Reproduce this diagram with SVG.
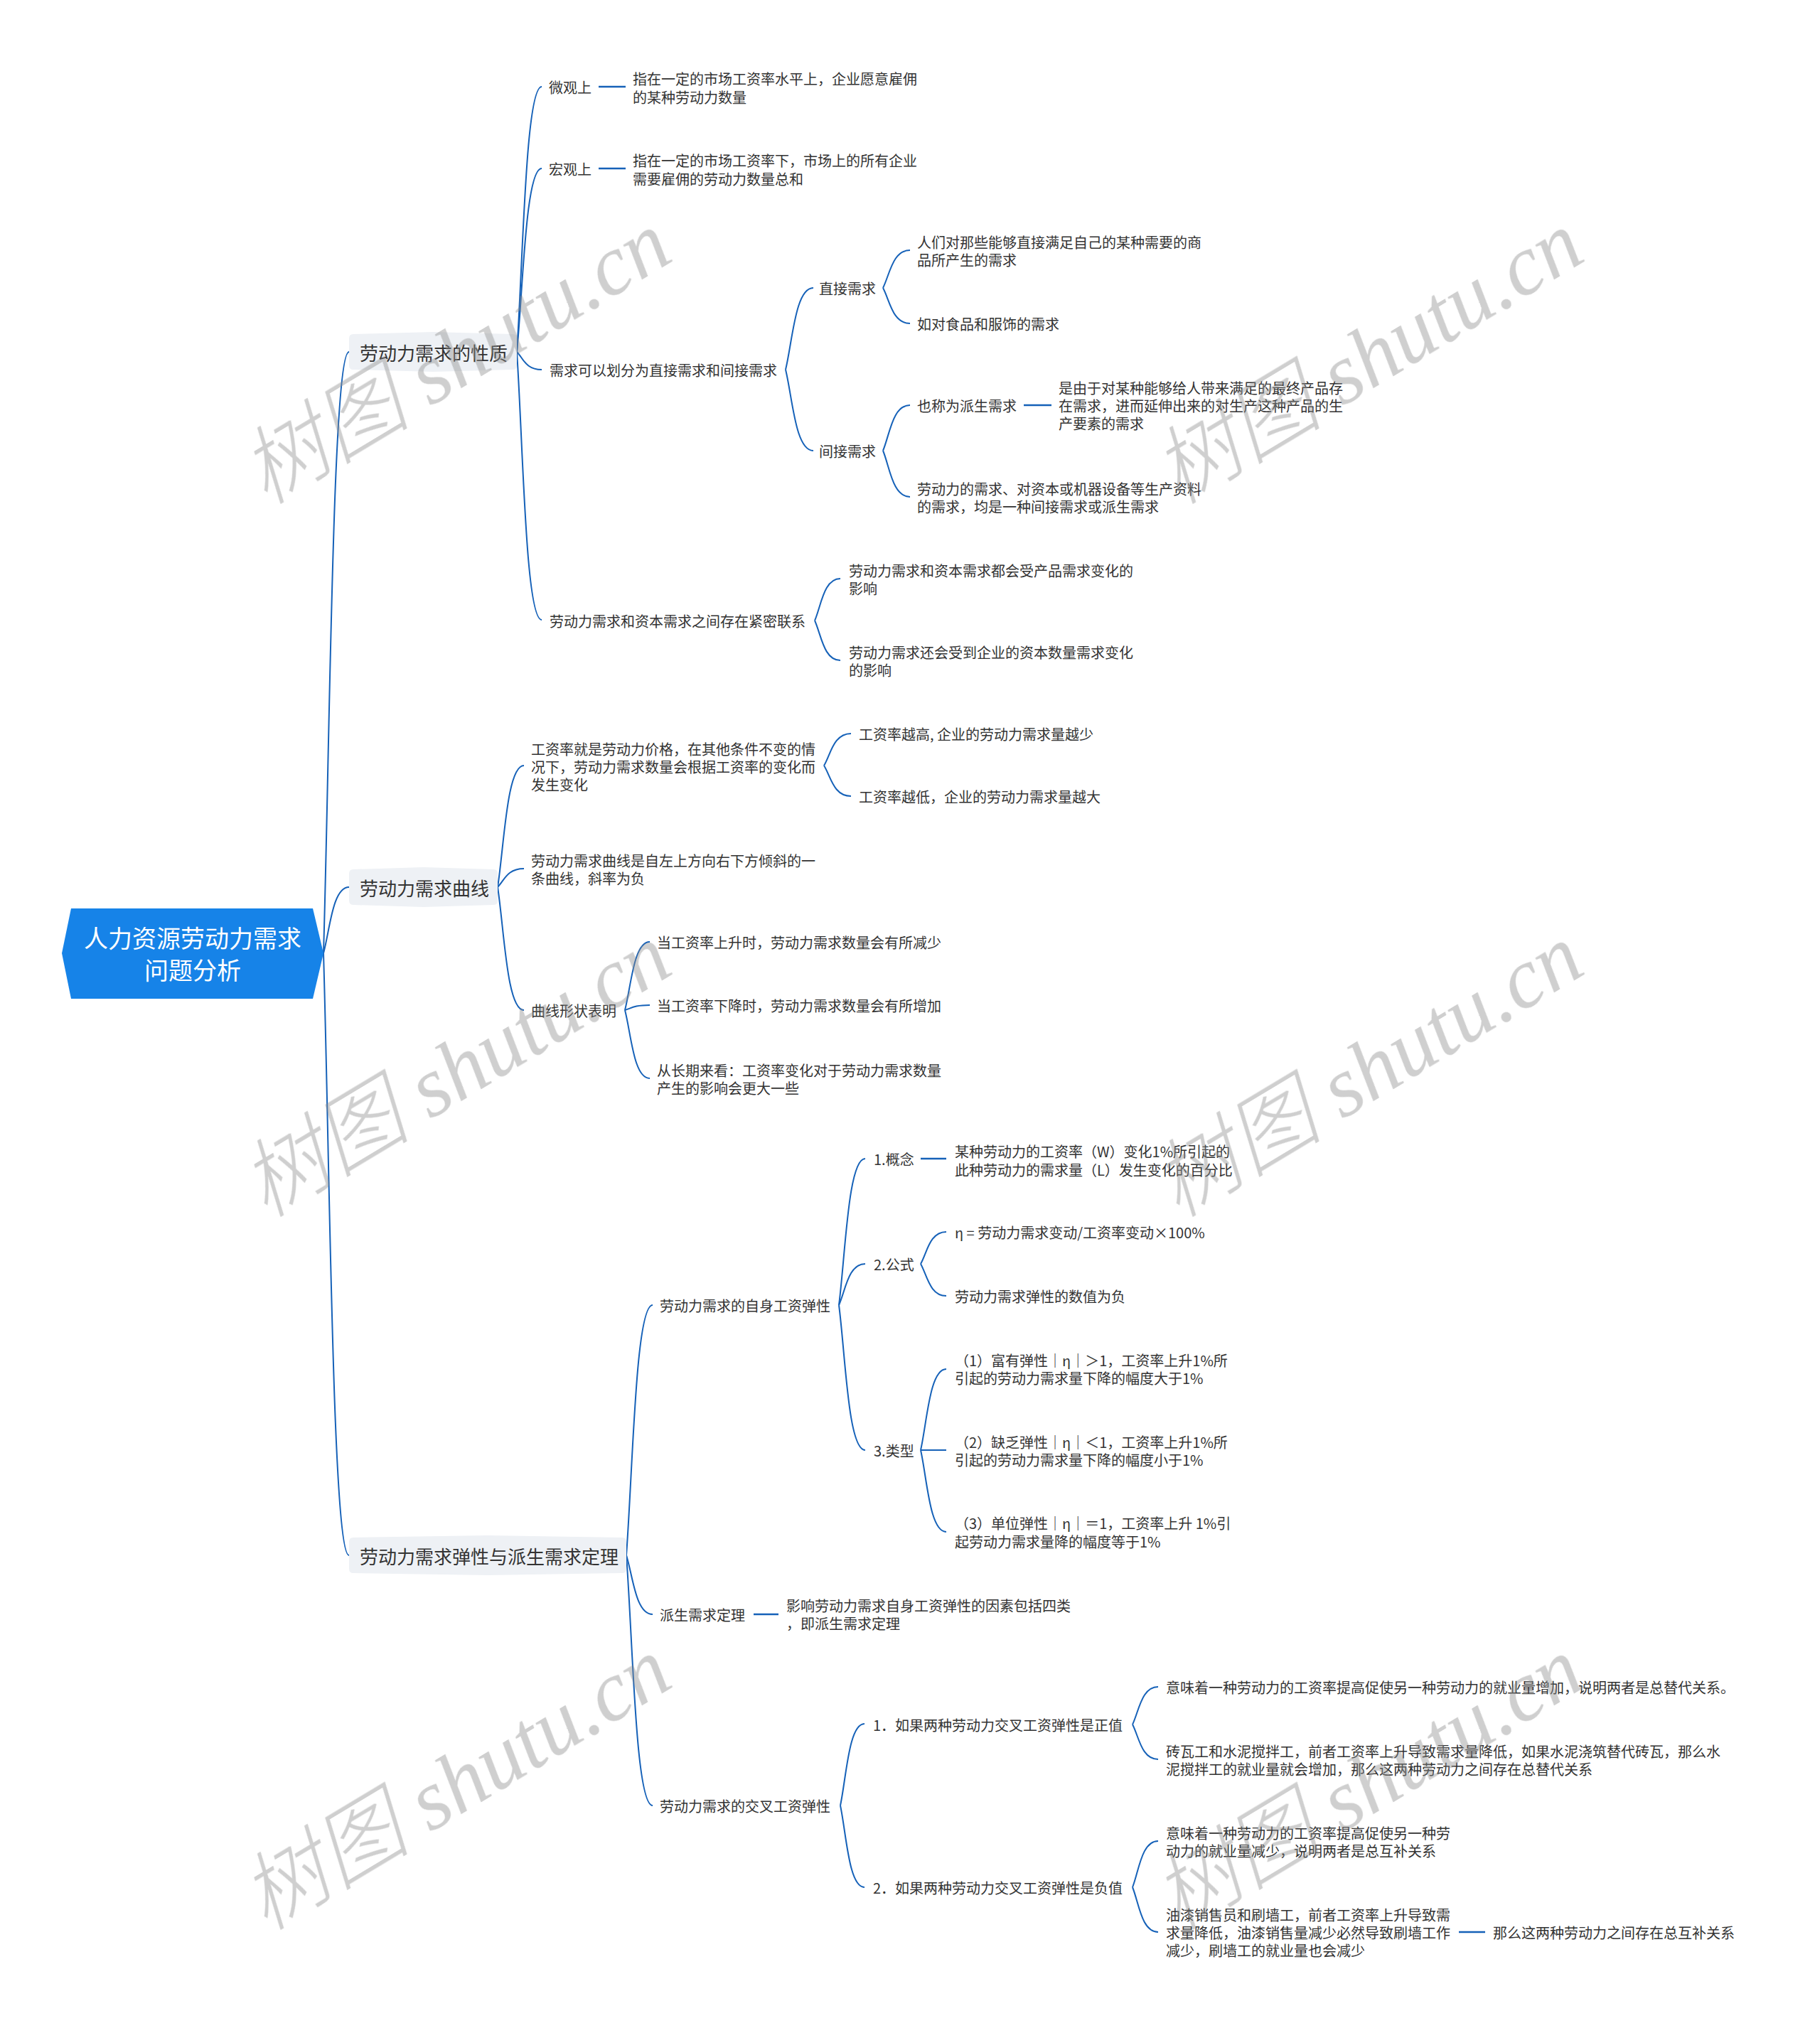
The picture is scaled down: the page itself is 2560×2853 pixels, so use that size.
<svg xmlns="http://www.w3.org/2000/svg" width="2560" height="2853" viewBox="0 0 2560 2853">
<style>
text{font-family:"Noto Sans CJK SC","Noto Sans",sans-serif;fill:#333;dominant-baseline:central}
.t{font-size:20px}
.l1{font-size:26px}
.root{font-size:34px;fill:#fff;text-anchor:middle}
.box{fill:#EEF1F5}
.c{fill:none;stroke:#1561B8;stroke-width:2}
.s{fill:none;stroke:#1561B8;stroke-width:2.5}
.wm{font-family:"Liberation Serif","Noto Sans CJK SC",serif;font-style:italic;font-size:120px;fill:#8c8c8c;text-anchor:middle}
.wmc{font-weight:300}
</style>
<rect width="2560" height="2853" fill="#fff"/>

<g id="connectors">
<path class="c" d="M455 1341 C464 1045 467.6 495 491 495"/>
<path class="c" d="M455 1341 C464 1308.4 467.6 1248 491 1248"/>
<path class="c" d="M455 1341 C464 1637.5 467.6 2188 491 2188"/>

<path class="c" d="M727 495 C735.75 364.5 739.25 122 762 122"/>
<path class="c" d="M727 495 C735.75 404.7 739.25 237 762 237"/>
<path class="c" d="M727 495 C735.75 503.75 739.25 520 762 520"/>
<path class="c" d="M727 495 C735.75 626.95 739.25 872 762 872"/>

<path class="s" d="M842 122 H880"/>
<path class="s" d="M842 237 H880"/>

<path class="c" d="M1105 520 C1114.75 479.75 1118.65 405 1144 405"/>
<path class="c" d="M1105 520 C1114.75 559.9 1118.65 634 1144 634"/>
<path class="c" d="M1242 405 C1251.5 386.45 1255.3 352 1280 352"/>
<path class="c" d="M1242 405 C1251.5 422.5 1255.3 455 1280 455"/>
<path class="c" d="M1242 634 C1251.5 611.6 1255.3 570 1280 570"/>
<path class="c" d="M1242 634 C1251.5 656.75 1255.3 699 1280 699"/>
<path class="s" d="M1440 570 H1479"/>
<path class="c" d="M1146 873 C1155 852.35 1158.6 814 1182 814"/>
<path class="c" d="M1146 873 C1155 892.6 1158.6 929 1182 929"/>

<path class="c" d="M700 1248 C709.25 1188.15 712.95 1077 737 1077"/>
<path class="c" d="M700 1248 C709.25 1238.9 712.95 1222 737 1222"/>
<path class="c" d="M700 1248 C709.25 1308.55 712.95 1421 737 1421"/>
<path class="c" d="M1159 1077 C1168.5 1061.25 1172.3 1032 1197 1032"/>
<path class="c" d="M1159 1077 C1168.5 1092.05 1172.3 1120 1197 1120"/>
<path class="c" d="M879 1421 C887.75 1387.4 891.25 1325 914 1325"/>
<path class="c" d="M879 1421 C887.75 1418.55 891.25 1414 914 1414"/>
<path class="c" d="M879 1421 C887.75 1454.6 891.25 1517 914 1517"/>

<path class="c" d="M881 2188 C890.25 2064.8 893.95 1836 918 1836"/>
<path class="c" d="M881 2188 C890.25 2217.05 893.95 2271 918 2271"/>
<path class="c" d="M881 2188 C890.25 2311.2 893.95 2540 918 2540"/>

<path class="c" d="M1180 1836 C1189.25 1763.9 1192.95 1630 1217 1630"/>
<path class="c" d="M1180 1836 C1189.25 1815.7 1192.95 1778 1217 1778"/>
<path class="c" d="M1180 1836 C1189.25 1907.4 1192.95 2040 1217 2040"/>
<path class="s" d="M1295 1630 H1331"/>
<path class="c" d="M1295 1778 C1304 1762.25 1307.6 1733 1331 1733"/>
<path class="c" d="M1295 1778 C1304 1793.75 1307.6 1823 1331 1823"/>
<path class="c" d="M1295 2040 C1304 2000.1 1307.6 1926 1331 1926"/>
<path class="c" d="M1295 2040 H1331"/>
<path class="c" d="M1295 2040 C1304 2080.25 1307.6 2155 1331 2155"/>

<path class="s" d="M1060 2271 H1095"/>

<path class="c" d="M1182 2540 C1190.5 2499.75 1193.9 2425 1216 2425"/>
<path class="c" d="M1182 2540 C1190.5 2580.25 1193.9 2655 1216 2655"/>
<path class="c" d="M1593 2426 C1602 2407.45 1605.6 2373 1629 2373"/>
<path class="c" d="M1593 2426 C1602 2443.15 1605.6 2475 1629 2475"/>
<path class="c" d="M1593 2655 C1602 2632.25 1605.6 2590 1629 2590"/>
<path class="c" d="M1593 2655 C1602 2677.05 1605.6 2718 1629 2718"/>
<path class="s" d="M2052 2718 H2089"/>
</g>

<g id="root">
<polygon points="87,1341 100,1278 440,1278 455,1341 440,1405 100,1405" fill="#1683E8"/>
<text class="root" x="271" y="1318">人力资源劳动力需求</text>
<text class="root" x="271" y="1363">问题分析</text>
</g>

<g id="n1">
<path class="box" d="M497 470 L609 467 L721 470 Q727 470 727 476 L727 514 Q727 520 721 520 L609 523 L497 520 Q491 520 491 514 L491 476 Q491 470 497 470 Z"/>
<text class="l1" x="506" y="495">劳动力需求的性质</text>
</g>
<g id="n1-1"><text class="t" x="772" y="122">微观上</text></g>
<g id="n1-1-1"><text class="t" x="890"><tspan x="890" y="110">指在一定的市场工资率水平上，企业愿意雇佣</tspan><tspan x="890" y="136">的某种劳动力数量</tspan></text></g>
<g id="n1-2"><text class="t" x="772" y="237">宏观上</text></g>
<g id="n1-2-1"><text class="t" x="890"><tspan x="890" y="225">指在一定的市场工资率下，市场上的所有企业</tspan><tspan x="890" y="251">需要雇佣的劳动力数量总和</tspan></text></g>
<g id="n1-3"><text class="t" x="773" y="520">需求可以划分为直接需求和间接需求</text></g>
<g id="n1-3-1"><text class="t" x="1152" y="405">直接需求</text></g>
<g id="n1-3-1-1"><text class="t" x="1290"><tspan x="1290" y="340">人们对那些能够直接满足自己的某种需要的商</tspan><tspan x="1290" y="365">品所产生的需求</tspan></text></g>
<g id="n1-3-1-2"><text class="t" x="1290" y="455">如对食品和服饰的需求</text></g>
<g id="n1-3-2"><text class="t" x="1152" y="634">间接需求</text></g>
<g id="n1-3-2-1"><text class="t" x="1290" y="570">也称为派生需求</text></g>
<g id="n1-3-2-1-1"><text class="t" x="1489"><tspan x="1489" y="545">是由于对某种能够给人带来满足的最终产品存</tspan><tspan x="1489" y="570">在需求，进而延伸出来的对生产这种产品的生</tspan><tspan x="1489" y="595">产要素的需求</tspan></text></g>
<g id="n1-3-2-2"><text class="t" x="1290"><tspan x="1290" y="687">劳动力的需求、对资本或机器设备等生产资料</tspan><tspan x="1290" y="712">的需求，均是一种间接需求或派生需求</tspan></text></g>
<g id="n1-4"><text class="t" x="773" y="873">劳动力需求和资本需求之间存在紧密联系</text></g>
<g id="n1-4-1"><text class="t" x="1194"><tspan x="1194" y="802">劳动力需求和资本需求都会受产品需求变化的</tspan><tspan x="1194" y="827">影响</tspan></text></g>
<g id="n1-4-2"><text class="t" x="1194"><tspan x="1194" y="917">劳动力需求还会受到企业的资本数量需求变化</tspan><tspan x="1194" y="942">的影响</tspan></text></g>

<g id="n2">
<path class="box" d="M497 1223 L595.5 1220 L694 1223 Q700 1223 700 1229 L700 1267 Q700 1273 694 1273 L595.5 1276 L497 1273 Q491 1273 491 1267 L491 1229 Q491 1223 497 1223 Z"/>
<text class="l1" x="506" y="1248">劳动力需求曲线</text>
</g>
<g id="n2-1"><text class="t" x="747"><tspan x="747" y="1053">工资率就是劳动力价格，在其他条件不变的情</tspan><tspan x="747" y="1078">况下，劳动力需求数量会根据工资率的变化而</tspan><tspan x="747" y="1103">发生变化</tspan></text></g>
<g id="n2-1-1"><text class="t" x="1208" y="1032">工资率越高, 企业的劳动力需求量越少</text></g>
<g id="n2-1-2"><text class="t" x="1208" y="1120">工资率越低，企业的劳动力需求量越大</text></g>
<g id="n2-2"><text class="t" x="747"><tspan x="747" y="1210">劳动力需求曲线是自左上方向右下方倾斜的一</tspan><tspan x="747" y="1235">条曲线，斜率为负</tspan></text></g>
<g id="n2-3"><text class="t" x="747" y="1421">曲线形状表明</text></g>
<g id="n2-3-1"><text class="t" x="924" y="1325">当工资率上升时，劳动力需求数量会有所减少</text></g>
<g id="n2-3-2"><text class="t" x="924" y="1414">当工资率下降时，劳动力需求数量会有所增加</text></g>
<g id="n2-3-3"><text class="t" x="924"><tspan x="924" y="1505">从长期来看：工资率变化对于劳动力需求数量</tspan><tspan x="924" y="1530">产生的影响会更大一些</tspan></text></g>

<g id="n3">
<path class="box" d="M497 2163 L686 2160 L875 2163 Q881 2163 881 2169 L881 2207 Q881 2213 875 2213 L686 2216 L497 2213 Q491 2213 491 2207 L491 2169 Q491 2163 497 2163 Z"/>
<text class="l1" x="506" y="2188">劳动力需求弹性与派生需求定理</text>
</g>
<g id="n3-1"><text class="t" x="928" y="1836">劳动力需求的自身工资弹性</text></g>
<g id="n3-1-1"><text class="t" x="1229" y="1630">1.概念</text></g>
<g id="n3-1-1-1"><text class="t" x="1343"><tspan x="1343" y="1619">某种劳动力的工资率（W）变化1%所引起的</tspan><tspan x="1343" y="1645">此种劳动力的需求量（L）发生变化的百分比</tspan></text></g>
<g id="n3-1-2"><text class="t" x="1229" y="1778">2.公式</text></g>
<g id="n3-1-2-1"><text class="t" x="1343" y="1733">η = 劳动力需求变动/工资率变动×100%</text></g>
<g id="n3-1-2-2"><text class="t" x="1343" y="1823">劳动力需求弹性的数值为负</text></g>
<g id="n3-1-3"><text class="t" x="1229" y="2040">3.类型</text></g>
<g id="n3-1-3-1"><text class="t" x="1343"><tspan x="1343" y="1913">（1）富有弹性｜η｜＞1，工资率上升1%所</tspan><tspan x="1343" y="1938">引起的劳动力需求量下降的幅度大于1%</tspan></text></g>
<g id="n3-1-3-2"><text class="t" x="1343"><tspan x="1343" y="2028">（2）缺乏弹性｜η｜＜1，工资率上升1%所</tspan><tspan x="1343" y="2053">引起的劳动力需求量下降的幅度小于1%</tspan></text></g>
<g id="n3-1-3-3"><text class="t" x="1343"><tspan x="1343" y="2142">（3）单位弹性｜η｜＝1，工资率上升 1%引</tspan><tspan x="1343" y="2168">起劳动力需求量降的幅度等于1%</tspan></text></g>
<g id="n3-2"><text class="t" x="928" y="2271">派生需求定理</text></g>
<g id="n3-2-1"><text class="t" x="1106"><tspan x="1106" y="2258">影响劳动力需求自身工资弹性的因素包括四类</tspan><tspan x="1106" y="2283">，即派生需求定理</tspan></text></g>
<g id="n3-3"><text class="t" x="928" y="2540">劳动力需求的交叉工资弹性</text></g>
<g id="n3-3-1"><text class="t" x="1228" y="2426">1．如果两种劳动力交叉工资弹性是正值</text></g>
<g id="n3-3-1-1"><text class="t" x="1640" y="2373">意味着一种劳动力的工资率提高促使另一种劳动力的就业量增加，说明两者是总替代关系。</text></g>
<g id="n3-3-1-2"><text class="t" x="1640"><tspan x="1640" y="2463">砖瓦工和水泥搅拌工，前者工资率上升导致需求量降低，如果水泥浇筑替代砖瓦，那么水</tspan><tspan x="1640" y="2488">泥搅拌工的就业量就会增加，那么这两种劳动力之间存在总替代关系</tspan></text></g>
<g id="n3-3-2"><text class="t" x="1228" y="2655">2．如果两种劳动力交叉工资弹性是负值</text></g>
<g id="n3-3-2-1"><text class="t" x="1640"><tspan x="1640" y="2578">意味着一种劳动力的工资率提高促使另一种劳</tspan><tspan x="1640" y="2603">动力的就业量减少，说明两者是总互补关系</tspan></text></g>
<g id="n3-3-2-2"><text class="t" x="1640"><tspan x="1640" y="2693">油漆销售员和刷墙工，前者工资率上升导致需</tspan><tspan x="1640" y="2718">求量降低，油漆销售量减少必然导致刷墙工作</tspan><tspan x="1640" y="2743">减少，刷墙工的就业量也会减少</tspan></text></g>
<g id="n3-3-2-2-1"><text class="t" x="2100" y="2718">那么这两种劳动力之间存在总互补关系</text></g>

<g id="watermarks" opacity="0.42">
<text class="wm" transform="translate(641 503) rotate(-31)"><tspan class="wmc">树图</tspan> shutu.cn</text>
<text class="wm" transform="translate(1924 503) rotate(-31)"><tspan class="wmc">树图</tspan> shutu.cn</text>
<text class="wm" transform="translate(641 1506) rotate(-31)"><tspan class="wmc">树图</tspan> shutu.cn</text>
<text class="wm" transform="translate(1924 1506) rotate(-31)"><tspan class="wmc">树图</tspan> shutu.cn</text>
<text class="wm" transform="translate(641 2509) rotate(-31)"><tspan class="wmc">树图</tspan> shutu.cn</text>
<text class="wm" transform="translate(1924 2509) rotate(-31)"><tspan class="wmc">树图</tspan> shutu.cn</text>
</g>
</svg>
